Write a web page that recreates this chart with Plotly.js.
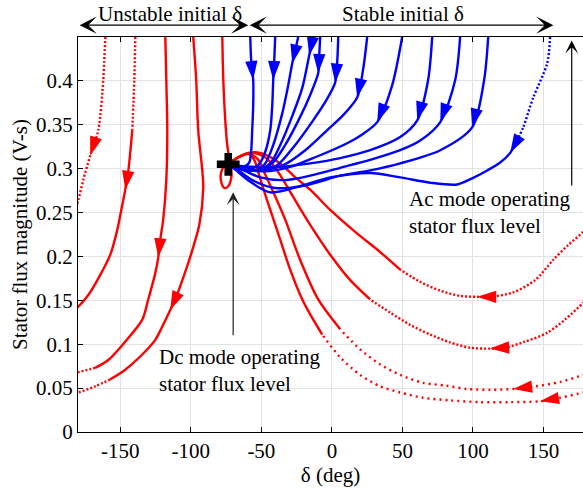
<!DOCTYPE html>
<html><head><meta charset="utf-8">
<script src="https://cdn.plot.ly/plotly-3.0.1.min.js"></script>
<style>
html,body{margin:0;padding:0;background:#fff;}
#chart{width:583px;height:488px;}
.xtick text, .ytick text, text.xtitle, text.ytitle { font-family: "Liberation Serif", serif !important; font-size: 21px !important; }
</style>
</head><body><div id="chart"></div>
<script>
// ---- axis ticks ----
const xTickVals = [-150,-100,-50,0,50,100,150];
const xTickText = ['-150','-100','-50','0','50','100','150'];
const yTickVals = [0,0.05,0.1,0.15,0.2,0.25,0.3,0.35,0.4];
const yTickText = ['0','0.05','0.1','0.15','0.2','0.25','0.3','0.35','0.4'];

// ---- red trajectories (unstable initial delta), left part ----
const r1X = [-160.6,-161.4,-162.1,-165.6,-171.3,-176.3,-179.8,-182.6];
const r1Y = [0.45,0.423,0.401,0.344,0.315,0.287,0.264,0.250];
const r2X = [-139.4,-140.1,-141.5,-144.3,-146.5,-149.3,-152.2,-157.1,-164.2,-172.7,-179.8,-185.5];
const r2Y = [0.45,0.401,0.344,0.298,0.276,0.253,0.230,0.202,0.179,0.156,0.143,0.137];
const r3X = [-118.1,-117.4,-116.7,-117.4,-119.6,-121.7,-123.1,-125.2,-130.2,-134.4,-146.5,-158.5,-167.8,-179.8,-185.5];
const r3Y = [0.45,0.401,0.344,0.287,0.242,0.219,0.199,0.181,0.151,0.128,0.103,0.082,0.073,0.068,0.065];
const r4X = [-98.3,-96.2,-94.8,-91.9,-91.2,-94.0,-99.0,-104.7,-110.4,-114.6,-120.3,-125.2,-135.9,-146.5,-157.1,-167.8,-179.8,-185.5];
const r4Y = [0.45,0.401,0.344,0.298,0.278,0.236,0.207,0.179,0.154,0.139,0.120,0.105,0.086,0.071,0.060,0.052,0.045,0.043];
const r5X = [-77.7,-77.0,-75.6,-74.2,-72.8,-71.4,-71.4,-73.5,-76.3,-78.5,-78.5,-76.3,-72.8];
const r5Y = [0.45,0.401,0.355,0.327,0.312,0.301,0.289,0.280,0.278,0.285,0.296,0.303,0.306];

// ---- red trajectories re-entering from the right (wrapped) ----
const rr1X = [183.1,178.1,167.5,156.8,144.1,128.5,112.2,103.0,91.0,76.8,62.6,48.4,34.2,16.5,-1.2,-15.4,-26.0,-34.5,-42.3,-50.8,-59.3,-66.4,-72.8];
const rr1Y = [0.239,0.228,0.213,0.196,0.173,0.159,0.154,0.154,0.155,0.161,0.171,0.185,0.205,0.228,0.253,0.276,0.290,0.303,0.312,0.318,0.318,0.313,0.306];
const rr2X = [183.1,178.1,165.3,152.6,137.0,122.8,112.2,98.0,83.8,69.7,55.5,41.3,27.1,13.0,-1.2,-15.4,-26.0,-34.5,-40.2,-46.6,-55.8,-65.0,-72.8];
const rr2Y = [0.154,0.147,0.128,0.113,0.103,0.096,0.095,0.096,0.102,0.111,0.122,0.136,0.151,0.173,0.202,0.236,0.264,0.287,0.301,0.312,0.318,0.314,0.306];
const rr3X = [183.1,178.1,161.8,144.1,128.5,112.2,95.9,80.3,64.7,48.4,34.2,20.1,5.9,-9.7,-22.5,-33.1,-42.3,-48.0,-52.2,-58.6,-66.4,-72.8];
const rr3Y = [0.068,0.065,0.057,0.052,0.049,0.048,0.049,0.053,0.056,0.065,0.077,0.094,0.117,0.151,0.196,0.242,0.276,0.296,0.310,0.317,0.313,0.306];
const rr4X = [183.1,178.1,161.8,147.6,126.4,105.1,83.8,64.7,48.4,34.2,20.1,5.9,-6.9,-15.4,-21.0,-29.6,-36.6,-43.7,-49.4,-52.2,-55.1,-59.3,-66.4,-72.8];
const rr4Y = [0.047,0.045,0.039,0.035,0.034,0.034,0.036,0.039,0.045,0.052,0.065,0.085,0.111,0.134,0.151,0.185,0.219,0.253,0.281,0.296,0.310,0.317,0.313,0.306];

// ---- blue trajectories (stable initial delta) ----
const b1X = [-57.9,-57.2,-55.8,-55.8,-56.5,-57.2,-58.6,-62.9,-67.8,-72.8];
const b1Y = [0.45,0.423,0.401,0.372,0.344,0.321,0.307,0.302,0.303,0.305];
const b2X = [-40.2,-40.9,-41.6,-42.3,-43.7,-47.3,-52.2,-59.3,-66.4,-72.8];
const b2Y = [0.45,0.423,0.401,0.372,0.344,0.319,0.304,0.299,0.302,0.305];
const b3X = [-23.9,-26.0,-28.1,-31.7,-35.2,-41.6,-47.3,-54.4,-63.6,-72.8];
const b3Y = [0.45,0.435,0.420,0.389,0.363,0.327,0.306,0.298,0.299,0.305];
const b4X = [-14.0,-14.7,-16.1,-21.0,-27.4,-36.6,-43.7,-53.6,-63.6,-72.8];
const b4Y = [0.45,0.440,0.429,0.392,0.363,0.327,0.306,0.298,0.299,0.305];
const b5X = [-8.3,-9.0,-9.7,-15.4,-22.5,-33.1,-42.3,-52.9,-63.6,-72.8];
const b5Y = [0.45,0.429,0.409,0.384,0.359,0.327,0.306,0.298,0.301,0.305];
const b6X = [4.5,3.8,2.3,-4.7,-13.3,-26.0,-38.8,-52.2,-63.6,-72.8];
const b6Y = [0.45,0.423,0.398,0.376,0.355,0.327,0.304,0.297,0.301,0.305];
const b7X = [25.0,22.2,17.9,8.0,-3.3,-18.9,-34.5,-50.8,-62.9,-72.8];
const b7Y = [0.45,0.414,0.381,0.361,0.344,0.321,0.304,0.298,0.301,0.305];
const b8X = [49.8,42.7,32.1,21.5,10.8,-11.8,-29.6,-47.3,-61.4,-72.8];
const b8Y = [0.45,0.395,0.353,0.339,0.329,0.313,0.302,0.297,0.301,0.305];
const b9X = [71.1,68.2,60.5,48.4,27.1,5.9,-15.4,-36.6,-54.4,-65.0,-72.8];
const b9Y = [0.45,0.401,0.355,0.336,0.321,0.312,0.306,0.302,0.302,0.303,0.305];
const b10X = [90.9,87.4,76.8,62.6,48.4,27.1,5.9,-15.4,-33.1,-50.8,-63.6,-72.8];
const b10Y = [0.45,0.401,0.353,0.332,0.321,0.310,0.301,0.292,0.287,0.290,0.299,0.305];
const b11X = [110.8,107.9,99.4,76.8,48.4,27.1,5.9,-18.9,-40.2,-56.5,-67.1,-72.8];
const b11Y = [0.45,0.401,0.347,0.321,0.306,0.298,0.292,0.281,0.278,0.287,0.299,0.305];
const b12X = [154.7,152.6,142.7,135.6,131.3,126.4,119.3,110.1,99.4,88.8,69.7,48.4,27.1,-1.2,-24.6,-43.7,-57.9,-67.8,-72.8];
const b12Y = [0.45,0.420,0.381,0.347,0.332,0.318,0.307,0.298,0.289,0.282,0.284,0.290,0.295,0.290,0.279,0.273,0.285,0.298,0.305];

// ---- operating point marker ----
const opX = [-73.5];
const opY = [0.305];

// ---- annotation positions (data units) ----
const regionSplit = -59.3, regionLeft = -179.9, regionRight = 157;
const dcArrowX = -70, dcArrowFrom = 0.1085, dcArrowTo = 0.273;
const acArrowX = 170, acArrowFrom = 0.279, acArrowTo = 0.446;

// ---- styles ----
const RED = '#ff0000', BLUE = '#0000ff';
const DENSE = '2px,2px', SPARSE = '2px,4px';
const curves = [
  {x:r1X,y:r1Y,c:RED,arrow:4,dot:[0,7],dash:DENSE},
  {x:r2X,y:r2Y,c:RED,arrow:4,dot:[0,2],dash:DENSE},
  {x:r3X,y:r3Y,c:RED,arrow:6,dot:[12,14],dash:DENSE},
  {x:r4X,y:r4Y,c:RED,arrow:9,dot:[14,17],dash:DENSE},
  {x:r5X,y:r5Y,c:RED},
  {x:rr1X,y:rr1Y,c:RED,arrow:7,dot:[0,11],dash:DENSE},
  {x:rr2X,y:rr2Y,c:RED,arrow:6,dot:[0,12],dash:DENSE},
  {x:rr3X,y:rr3Y,c:RED,arrow:4,dot:[0,12],dash:SPARSE},
  {x:rr4X,y:rr4Y,c:RED,arrow:3,dot:[0,12],dash:SPARSE},
  {x:b1X,y:b1Y,c:BLUE,arrow:2},
  {x:b2X,y:b2Y,c:BLUE,arrow:2},
  {x:b3X,y:b3Y,c:BLUE,arrow:2},
  {x:b4X,y:b4Y,c:BLUE,arrow:2},
  {x:b5X,y:b5Y,c:BLUE,arrow:2},
  {x:b6X,y:b6Y,c:BLUE,arrow:2},
  {x:b7X,y:b7Y,c:BLUE,arrow:2},
  {x:b8X,y:b8Y,c:BLUE,arrow:2},
  {x:b9X,y:b9Y,c:BLUE,arrow:2},
  {x:b10X,y:b10Y,c:BLUE,arrow:2},
  {x:b11X,y:b11Y,c:BLUE,arrow:2},
  {x:b12X,y:b12Y,c:BLUE,arrow:5,dot:[0,4],dash:DENSE}
];

const traces = [];
const arrowTraces = [];
curves.forEach(s => {
  const n = s.x.length;
  const parts = [];
  if (!s.dot) parts.push([0, n-1, 'solid']);
  else {
    const a = s.dot[0], b = s.dot[1];
    if (a > 0) parts.push([0, a, 'solid']);
    parts.push([a, b, s.dash]);
    if (b < n-1) parts.push([b, n-1, 'solid']);
  }
  parts.forEach(p => traces.push({
    type:'scatter', mode:'lines', x:s.x.slice(p[0],p[1]+1), y:s.y.slice(p[0],p[1]+1),
    line:{color:s.c, width:2.4, dash:p[2], shape:'spline', smoothing:0.8},
    hoverinfo:'skip', showlegend:false
  }));
  if (s.arrow != null) {
    const i = s.arrow;
    arrowTraces.push({
      type:'scatter', mode:'markers', x:[s.x[i-1], s.x[i]], y:[s.y[i-1], s.y[i]],
      marker:{symbol:'arrow', angleref:'previous', size:[0,20], opacity:1, color:s.c, line:{width:0}},
      hoverinfo:'skip', showlegend:false
    });
  }
});
traces.push(...arrowTraces);
traces.push({type:'scatter', mode:'markers', x:opX, y:opY,
  marker:{symbol:'cross', size:19, opacity:1, color:'#000', line:{width:0}}, hoverinfo:'skip', showlegend:false});

const FONT = 'Liberation Serif';
const topY = 1.03;
const annotations = [
  {xref:'x', yref:'paper', x:regionSplit, y:topY, axref:'x', ayref:'pixel', ax:regionLeft, ay:0,
   text:'', showarrow:true, arrowside:'end+start', arrowhead:3, startarrowhead:3, arrowsize:2.2, startarrowsize:2.2, arrowwidth:1.3, arrowcolor:'#000', standoff:0, startstandoff:0},
  {xref:'x', yref:'paper', x:regionRight, y:topY, axref:'x', ayref:'pixel', ax:regionSplit, ay:0,
   text:'', showarrow:true, arrowside:'end+start', arrowhead:3, startarrowhead:3, arrowsize:2.2, startarrowsize:2.2, arrowwidth:1.3, arrowcolor:'#000', standoff:0, startstandoff:0},
  {xref:'x', yref:'paper', x:-114.5, y:1.057, yanchor:'middle', text:'Unstable initial δ', showarrow:false, font:{family:FONT,size:21,color:'#000'}},
  {xref:'x', yref:'paper', x:50.5, y:1.057, yanchor:'middle', text:'Stable initial δ', showarrow:false, font:{family:FONT,size:21,color:'#000'}},
  {xref:'x', yref:'y', x:dcArrowX, y:dcArrowTo, axref:'x', ayref:'y', ax:dcArrowX, ay:dcArrowFrom,
   text:'', showarrow:true, arrowhead:3, arrowsize:1.8, arrowwidth:1.2, arrowcolor:'#222', standoff:0},
  {xref:'x', yref:'y', x:acArrowX, y:acArrowTo, axref:'x', ayref:'y', ax:acArrowX, ay:acArrowFrom,
   text:'', showarrow:true, arrowhead:3, arrowsize:1.8, arrowwidth:1.2, arrowcolor:'#000', standoff:0},
  {xref:'x', yref:'y', x:-123.8, y:0.1017, xanchor:'left', yanchor:'top', align:'left',
   text:'Dc mode operating<br>stator flux level', showarrow:false, font:{family:FONT,size:21,color:'#000'}},
  {xref:'x', yref:'y', x:53.4, y:0.281, xanchor:'left', yanchor:'top', align:'left',
   text:'Ac mode operating<br>stator flux level', showarrow:false, font:{family:FONT,size:21,color:'#000'}}
];

const layout = {
  width:583, height:488,
  margin:{l:78, r:0, t:37, b:56},
  paper_bgcolor:'#fff', plot_bgcolor:'#fff',
  showlegend:false,
  font:{family:FONT, size:21, color:'#000'},
  xaxis:{range:[-180,178], tickvals:xTickVals, ticktext:xTickText, ticks:'inside', ticklen:5, tickcolor:'#000',
    showline:true, linecolor:'#000', linewidth:1, mirror:'ticks', showgrid:true, gridcolor:'#e2e2e2', zeroline:false,
    tickfont:{family:FONT,size:21,color:'#000'}, title:{text:'δ (deg)', font:{family:FONT,size:21,color:'#000'}, standoff:2}},
  yaxis:{range:[0,0.45], tickvals:yTickVals, ticktext:yTickText, ticks:'inside', ticklen:5, tickcolor:'#000',
    showline:true, linecolor:'#000', linewidth:1, showgrid:true, gridcolor:'#e2e2e2', zeroline:false,
    tickfont:{family:FONT,size:21,color:'#000'}, title:{text:'Stator flux magnitude (V-s)', font:{family:FONT,size:21,color:'#000'}, standoff:2}},
  annotations:annotations
};

Plotly.newPlot('chart', traces, layout, {displayModeBar:false, staticPlot:true});
</script></body></html>
